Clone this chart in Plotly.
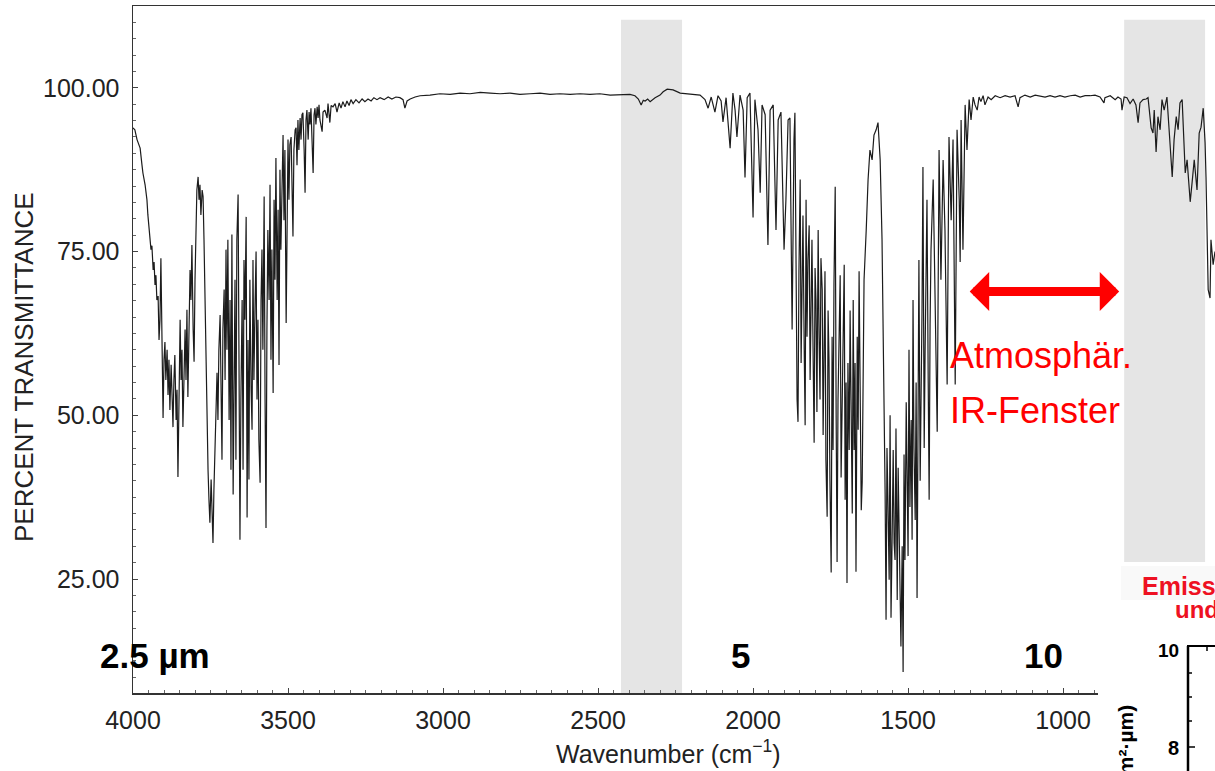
import plotly.graph_objects as go

# ---------------- data (wavenumber cm^-1, percent transmittance) ----------------
stretch_band = [
    (4000, 93.9), (3994, 93.6), (3987, 92.1), (3984, 91.6), (3977, 90.8), (3971, 88.2), (3968, 87.0),
    (3961, 85.2), (3955, 82.9), (3952, 80.6), (3948, 77.9), (3945, 76.8), (3942, 75.3), (3939, 75.9),
    (3935, 72.2), (3932, 73.4), (3929, 69.9), (3926, 71.4), (3923, 67.6), (3919, 68.2), (3916, 61.5),
    (3913, 64.6), (3910, 74.0), (3906, 60.0), (3903, 49.6), (3900, 58.5), (3897, 61.2), (3894, 55.4),
    (3890, 60.0), (3887, 53.1), (3884, 58.5), (3881, 50.8), (3877, 57.7), (3874, 53.1), (3871, 48.2),
    (3868, 55.4), (3865, 59.2), (3861, 49.3), (3858, 53.9), (3855, 40.6), (3852, 52.4), (3848, 64.6),
    (3845, 55.4), (3842, 60.0), (3839, 48.2), (3835, 58.5), (3832, 63.1), (3829, 55.4), (3826, 66.1),
    (3823, 52.8), (3819, 61.5), (3816, 72.2), (3813, 67.6), (3810, 76.0), (3806, 63.1), (3803, 58.2),
    (3800, 70.7), (3797, 78.3), (3794, 84.4), (3790, 86.4), (3787, 82.9), (3784, 85.2), (3781, 80.6),
    (3777, 84.4), (3774, 83.4), (3771, 76.8), (3768, 67.6), (3765, 58.5), (3761, 49.3), (3758, 41.7),
    (3755, 37.1), (3752, 33.6), (3748, 40.2), (3745, 34.0), (3742, 30.5), (3739, 38.6), (3735, 47.8),
    (3732, 52.4), (3729, 56.5), (3726, 49.3), (3723, 60.0), (3719, 65.3), (3716, 52.4), (3713, 43.2),
    (3710, 63.1), (3706, 69.2), (3703, 55.4), (3700, 75.3), (3697, 60.0), (3694, 76.8), (3690, 49.3),
    (3687, 67.6), (3684, 41.7), (3681, 77.6), (3677, 37.9), (3674, 63.1), (3671, 70.7), (3668, 43.2),
    (3665, 76.8), (3661, 83.7), (3658, 55.4), (3655, 31.0), (3652, 52.4), (3648, 67.6), (3645, 41.7),
    (3642, 73.7), (3639, 64.6), (3635, 80.3), (3632, 34.4), (3629, 61.5), (3626, 40.2), (3623, 70.7),
    (3619, 53.9), (3616, 47.8), (3613, 73.7), (3610, 55.4), (3606, 67.6), (3603, 75.0), (3600, 52.4),
    (3597, 64.6), (3594, 46.3), (3590, 39.7), (3587, 67.6), (3584, 75.3), (3581, 60.0), (3577, 83.4),
    (3574, 52.4), (3571, 32.8), (3568, 63.1), (3565, 78.3), (3561, 67.6), (3558, 85.2), (3555, 58.5),
    (3552, 75.3), (3548, 53.4), (3545, 82.9), (3542, 70.7), (3539, 89.3), (3535, 67.6), (3532, 81.4),
    (3529, 57.7), (3526, 87.5), (3523, 75.3), (3519, 89.0), (3516, 92.8), (3513, 79.8), (3510, 90.5),
    (3506, 64.1), (3503, 87.5), (3500, 92.1), (3497, 82.9), (3494, 91.3), (3490, 92.5), (3487, 86.0),
    (3484, 77.3), (3481, 90.5), (3477, 93.6), (3474, 93.9), (3471, 88.2), (3468, 95.1), (3465, 90.5),
    (3461, 95.4), (3458, 92.1), (3455, 95.9), (3452, 96.2), (3448, 90.5), (3445, 84.0), (3442, 95.1),
    (3439, 96.6), (3435, 92.1), (3432, 96.3), (3429, 94.4), (3426, 96.9), (3419, 87.0), (3416, 95.9),
    (3413, 96.9), (3410, 94.4), (3406, 97.1), (3403, 95.4), (3400, 97.4), (3397, 95.1), (3390, 93.3),
    (3387, 96.3), (3381, 96.6), (3374, 95.4), (3371, 97.6), (3365, 94.7), (3361, 97.3), (3355, 97.1),
    (3348, 97.6), (3342, 96.3), (3335, 97.7), (3329, 96.9), (3323, 97.9), (3316, 97.1), (3310, 98.0),
    (3303, 97.3), (3297, 98.2), (3290, 97.6), (3281, 98.2), (3271, 97.7), (3261, 98.3), (3252, 97.9),
    (3242, 98.3), (3232, 98.0), (3223, 98.5), (3213, 98.2), (3203, 98.5), (3190, 98.2), (3177, 98.6),
    (3165, 98.3), (3152, 98.6), (3139, 98.5), (3129, 98.2), (3123, 96.9), (3116, 98.0), (3106, 98.3),
]

flat_region = [
    (3090, 98.6), (3074, 98.8), (3042, 98.9), (3010, 99.1), (2977, 99.0), (2945, 99.2), (2913, 99.1),
    (2880, 99.3), (2848, 99.2), (2816, 99.1), (2784, 99.2), (2752, 99.0), (2719, 99.1), (2687, 99.2),
    (2655, 99.0), (2623, 99.1), (2590, 99.0), (2558, 99.1), (2526, 99.0), (2494, 99.1), (2461, 98.9),
    (2429, 99.0), (2397, 99.0), (2381, 98.8), (2370, 98.3), (2361, 97.4), (2354, 98.1), (2348, 98.0),
    (2340, 98.3), (2332, 97.9), (2316, 98.5), (2300, 98.9), (2290, 99.4), (2277, 99.8), (2258, 99.7),
    (2235, 99.2), (2203, 99.1), (2171, 98.9),
]

bend_band = [
    (2155, 98.2), (2145, 96.9), (2135, 98.6), (2123, 96.3), (2113, 98.8), (2103, 98.0), (2097, 94.8),
    (2087, 98.5), (2074, 90.8), (2065, 99.2), (2058, 96.6), (2052, 92.5), (2042, 98.9), (2032, 96.6),
    (2026, 86.3), (2019, 98.5), (2010, 99.2), (2000, 80.2), (1994, 98.2), (1984, 93.6), (1977, 84.0),
    (1971, 97.4), (1961, 95.9), (1952, 76.0), (1945, 96.6), (1935, 97.4), (1926, 78.3), (1919, 95.1),
    (1910, 96.3), (1900, 75.3), (1894, 82.9), (1887, 95.1), (1881, 95.4), (1874, 63.1), (1868, 92.1),
    (1865, 96.2), (1858, 52.4), (1855, 49.0), (1852, 72.0), (1848, 86.0), (1845, 58.0), (1842, 70.7),
    (1839, 80.5), (1835, 60.0), (1832, 48.5), (1829, 82.9), (1826, 62.0), (1823, 73.7), (1819, 79.0),
    (1816, 55.4), (1813, 66.0), (1810, 76.8), (1806, 58.0), (1803, 45.8), (1800, 72.5), (1797, 67.6),
    (1794, 50.5), (1790, 78.3), (1787, 62.0), (1784, 52.4), (1781, 74.0), (1777, 69.2), (1774, 47.0),
    (1771, 60.0), (1768, 72.0), (1765, 43.2), (1761, 34.5), (1758, 66.0), (1755, 58.5), (1752, 40.0),
    (1748, 26.0), (1745, 62.0), (1742, 44.7), (1739, 70.0), (1735, 84.9), (1732, 50.0), (1729, 27.6),
    (1726, 52.4), (1723, 64.0), (1719, 71.4), (1716, 40.5), (1713, 49.3), (1710, 60.0), (1706, 73.0),
    (1703, 37.1), (1700, 55.0), (1697, 24.4), (1694, 58.0), (1690, 44.7), (1687, 66.0), (1684, 52.4),
    (1680, 35.0), (1677, 67.6), (1674, 44.7), (1671, 58.0), (1668, 26.1), (1664, 62.0), (1661, 47.8),
    (1658, 72.0), (1655, 60.0), (1651, 35.5), (1648, 39.8), (1645, 64.0), (1642, 70.7), (1635, 78.3),
    (1629, 86.0), (1623, 90.5), (1616, 89.0), (1610, 92.8), (1603, 93.6), (1597, 94.7), (1590, 89.0),
    (1584, 76.8), (1580, 62.0), (1577, 52.4), (1574, 38.0), (1571, 18.8), (1568, 45.0), (1565, 37.1),
    (1561, 24.9), (1558, 50.0), (1555, 19.1), (1551, 33.0), (1548, 44.7), (1545, 30.5), (1542, 27.9),
    (1539, 48.0), (1535, 21.8), (1532, 42.0), (1529, 34.0), (1526, 25.0), (1523, 14.7), (1519, 30.0),
    (1516, 10.8), (1513, 44.0), (1510, 27.9), (1506, 52.0), (1503, 40.2), (1500, 28.5), (1497, 60.0),
    (1494, 36.0), (1490, 49.3), (1487, 31.0), (1484, 67.6), (1481, 45.0), (1477, 34.0), (1474, 55.0),
    (1471, 22.1), (1468, 48.0), (1465, 73.7), (1461, 40.0), (1458, 52.4), (1455, 66.0), (1452, 87.9),
    (1448, 45.0), (1445, 60.0), (1442, 71.0), (1439, 82.9), (1435, 55.0), (1432, 37.1), (1429, 64.0),
    (1426, 75.3), (1419, 86.0), (1413, 67.6), (1406, 47.5), (1400, 90.5), (1394, 70.7), (1387, 89.0),
    (1381, 78.3), (1374, 54.7), (1368, 92.5), (1361, 79.8), (1355, 92.1), (1348, 54.7), (1342, 93.6),
    (1335, 82.9), (1332, 73.4), (1329, 95.1), (1323, 75.3), (1316, 97.4), (1310, 90.5), (1303, 98.2),
    (1297, 95.1), (1290, 98.6), (1284, 97.4), (1277, 96.6), (1271, 98.6), (1265, 97.9), (1258, 98.8),
    (1252, 97.4), (1242, 98.6), (1232, 98.2), (1219, 98.8),
]

window_region = [
    (1203, 98.5), (1187, 98.8), (1171, 98.6), (1155, 98.8), (1145, 97.1), (1139, 98.5), (1123, 98.9),
    (1106, 98.6), (1090, 98.9), (1074, 98.8), (1058, 98.6), (1042, 98.8), (1026, 98.6), (1010, 98.8),
    (994, 98.6), (977, 98.8), (961, 98.9), (945, 98.6), (929, 98.8), (913, 98.8), (897, 98.9),
    (881, 98.6), (868, 97.7), (865, 98.5), (848, 98.8), (832, 98.2), (823, 98.6), (813, 98.3),
    (810, 96.6), (803, 98.6), (794, 98.5),
]

co2_band = [
    (784, 97.6), (774, 98.3), (765, 97.4), (758, 94.7), (752, 97.7), (742, 98.2), (732, 98.3),
    (726, 98.5), (716, 93.9), (710, 93.1), (706, 96.6), (700, 90.2), (694, 95.6), (687, 93.6),
    (681, 98.2), (674, 96.6), (665, 98.6), (658, 93.1), (648, 86.4), (642, 92.1), (635, 95.6),
    (629, 93.6), (623, 97.7), (616, 98.2), (610, 92.1), (606, 87.0), (600, 89.0), (590, 82.6),
    (584, 85.5), (577, 89.0), (568, 84.4), (561, 93.1), (555, 94.0), (548, 96.9), (542, 91.6),
    (539, 86.4), (532, 69.2), (526, 67.9), (523, 76.8), (516, 73.0), (510, 75.0),
]

# shaded CO2 bands (wavenumber start, end, T bottom, T top)
shade_wn_start = [2426, 803]
shade_wn_end = [2229, 542]
shade_t_bottom = [7.6, 27.6]
shade_t_top = [110.4, 110.4]

# wavelength marks
wl_labels = ["2.5 \u00b5m", "5", "10"]
wl_wn = [3929, 2039, 1064]
wl_t = 13.4

# atmospheric window arrow (cm^-1)
window_wn = [1306, 819]
window_t = 68.9

x_ticks = [4000, 3500, 3000, 2500, 2000, 1500, 1000]
y_ticks = [25, 50, 75, 100]

# ---------------- build ----------------
segments = stretch_band + flat_region + bend_band + window_region + co2_band
wavenumber = [p[0] for p in segments]
transmittance = [p[1] for p in segments]

W, H = 1215, 771
ML, MR, MT, MB = 133, 0, 6, 78
PW, PH = W - ML - MR, H - MT - MB


def px(x):
    return (x - ML) / PW


def py(y):
    return (H - MB - y) / PH


FONT = "Liberation Sans, Arial, Helvetica, sans-serif"
fig = go.Figure()
fig.add_trace(go.Scatter(
    x=wavenumber, y=transmittance, mode="lines",
    line=dict(color="#1c1c1c", width=1.2), hoverinfo="skip", showlegend=False,
))

for x0, x1, y0, y1 in zip(shade_wn_start, shade_wn_end, shade_t_bottom, shade_t_top):
    fig.add_shape(type="rect", xref="x", yref="y", x0=x0, x1=x1, y0=y0, y1=y1,
                  fillcolor="#e5e5e5", line_width=0, layer="below")

# overlay of the neighbouring figure (bottom right)
fig.add_shape(type="rect", xref="paper", yref="paper", x0=px(1098), x1=px(1230),
              y0=py(565), y1=py(790), fillcolor="white", line_width=0, layer="above")
fig.add_shape(type="rect", xref="paper", yref="paper", x0=px(1121), x1=px(1230),
              y0=py(566), y1=py(600), fillcolor="#f9f9f9", line_width=0, layer="above")
# mini axis of neighbouring figure
fig.add_shape(type="line", xref="paper", yref="paper", x0=px(1188), x1=px(1188),
              y0=py(646), y1=py(790), line=dict(color="black", width=2.5), layer="above")
fig.add_shape(type="line", xref="paper", yref="paper", x0=px(1187), x1=px(1230),
              y0=py(646), y1=py(646), line=dict(color="black", width=2), layer="above")
for ty in [673, 697, 721]:
    fig.add_shape(type="line", xref="paper", yref="paper", x0=px(1188), x1=px(1192),
                  y0=py(ty), y1=py(ty), line=dict(color="black", width=1.5), layer="above")
fig.add_shape(type="line", xref="paper", yref="paper", x0=px(1188), x1=px(1195),
              y0=py(747), y1=py(747), line=dict(color="black", width=1.5), layer="above")
fig.add_shape(type="line", xref="paper", yref="paper", x0=px(1207), x1=px(1207),
              y0=py(646), y1=py(651), line=dict(color="black", width=1.5), layer="above")

ann = []
ann.append(dict(text="PERCENT TRANSMITTANCE", x=px(24), y=py(367), xref="paper", yref="paper",
                xanchor="center", yanchor="middle",
                textangle=-90, showarrow=False, font=dict(size=26, color="#222", family=FONT)))
ann.append(dict(text="Wavenumber (cm<sup>\u22121</sup>)", x=px(668), y=py(752), xref="paper", yref="paper",
                xanchor="center", yanchor="middle",
                showarrow=False, font=dict(size=25, color="#222", family=FONT)))
for t, w in zip(wl_labels, wl_wn):
    ann.append(dict(text="<b>" + t + "</b>", x=w, y=wl_t, xref="x", yref="y", showarrow=False,
                    xanchor="center", yanchor="middle",
                    font=dict(size=35, color="black", family=FONT)))
ann.append(dict(text="Atmosph\u00e4r.", x=1372, y=59.2, xref="x", yref="y", xanchor="left",
                yanchor="middle", showarrow=False, font=dict(size=36, color="#ff0000", family=FONT)))
ann.append(dict(text="IR-Fenster", x=1372, y=50.7, xref="x", yref="y", xanchor="left",
                yanchor="middle", showarrow=False, font=dict(size=36, color="#ff0000", family=FONT)))
ann.append(dict(text="", x=window_wn[1], y=window_t, ax=window_wn[0], ay=window_t,
                xref="x", yref="y", axref="x", ayref="y", showarrow=True,
                arrowhead=1, startarrowhead=1, arrowside="end+start",
                arrowsize=0.72, startarrowsize=0.72, arrowwidth=9, arrowcolor="#ff0000"))
ann.append(dict(text="<b>Emission</b>", x=px(1140), y=py(586), xref="paper", yref="paper",
                xanchor="left", yanchor="middle", showarrow=False,
                font=dict(size=25, color="#ee1122", family=FONT)))
ann.append(dict(text="<b>und</b>", x=px(1173), y=py(609), xref="paper", yref="paper",
                xanchor="left", yanchor="middle", showarrow=False,
                font=dict(size=24, color="#ee1122", family=FONT)))
ann.append(dict(text="<b>10</b>", x=px(1181), y=py(650), xref="paper", yref="paper",
                xanchor="right", yanchor="middle", showarrow=False,
                font=dict(size=19, color="black", family=FONT)))
ann.append(dict(text="<b>8</b>", x=px(1181), y=py(748), xref="paper", yref="paper",
                xanchor="right", yanchor="middle", showarrow=False,
                font=dict(size=20, color="black", family=FONT)))
ann.append(dict(text="<b>Intensit\u00e4t (W/m\u00b2\u00b7\u00b5m)</b>", x=px(1125), y=py(703),
                xref="paper", yref="paper", xanchor="center", yanchor="top", textangle=-90,
                showarrow=False, font=dict(size=21, color="black", family=FONT)))

fig.update_layout(
    width=W, height=H, margin=dict(l=ML, r=MR, t=MT, b=MB, pad=0),
    paper_bgcolor="white", plot_bgcolor="white", showlegend=False, hovermode=False,
    annotations=ann, font=dict(family=FONT, color="#222"),
)
fig.update_xaxes(
    range=[4000, 510], tickmode="array", tickvals=x_ticks, ticks="inside", ticklen=5, tickwidth=1,
    tickcolor="#444", showline=True, linecolor="#333", linewidth=1.5, mirror=True,
    showgrid=False, zeroline=False, tickfont=dict(size=25, color="#222"), ticklabelstandoff=4,
    minor=dict(dtick=50, tick0=0, ticks="inside", ticklen=3, tickcolor="#666", showgrid=False),
)
fig.update_yaxes(
    range=[7.6, 112.5], tickmode="array", tickvals=y_ticks, tickformat=".2f", ticks="inside",
    ticklen=5, tickwidth=1, tickcolor="#444", showline=True, linecolor="#333", linewidth=1.5,
    showgrid=False, zeroline=False, tickfont=dict(size=25, color="#222"), ticklabelstandoff=7,
    minor=dict(dtick=2.5, tick0=0, ticks="inside", ticklen=3, tickcolor="#666", showgrid=False),
)

fig.write_html(
    "out.html",
    config={"displayModeBar": False, "staticPlot": True},
    post_script="document.body.style.margin='0px';document.body.style.overflow='hidden';",
)
